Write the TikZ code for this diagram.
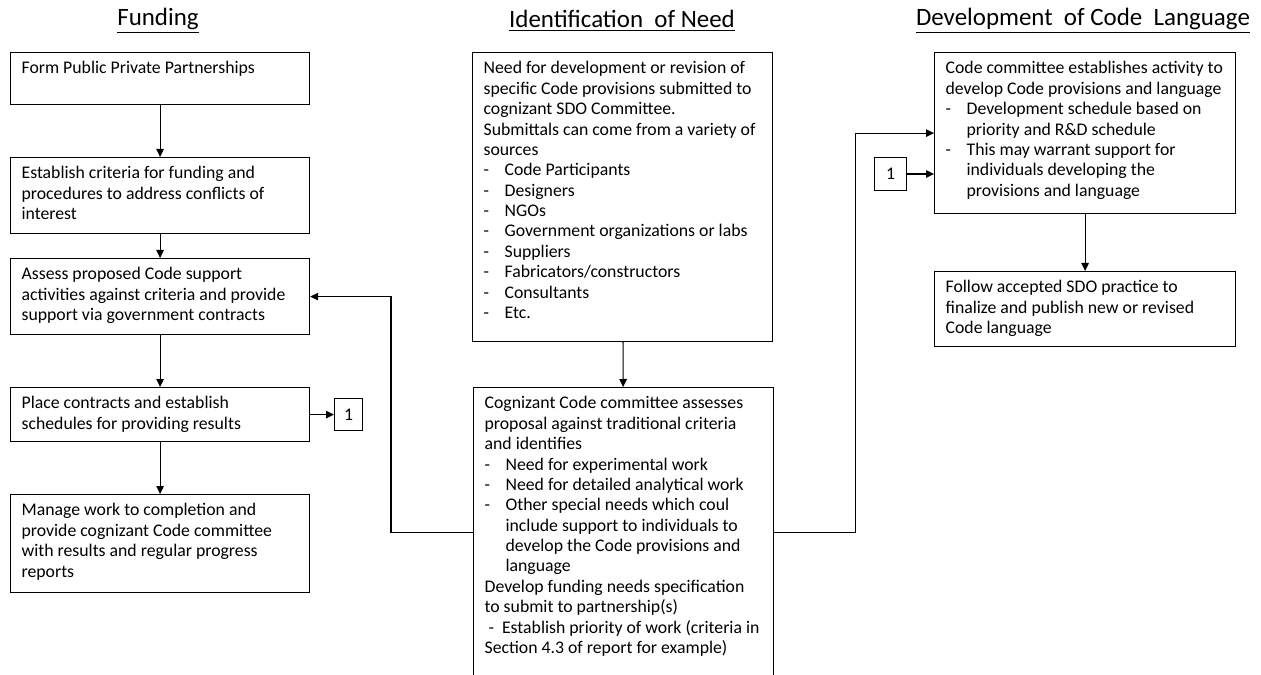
\documentclass[tikz,border=0pt]{standalone}
\usepackage{fontspec}
\setmainfont{Carlito}
\usetikzlibrary{arrows.meta,positioning}

\newcommand{\boxtext}[3]{\parbox[t][#2][t]{#1}{\raggedright\fontsize{10.1}{11.6}\selectfont #3}}
\newcommand{\dashitem}[1]{\par\hangindent=0.42cm\hangafter=1\noindent\makebox[0.42cm][l]{-}#1}

\begin{document}
\begin{tikzpicture}[
  x=0.02cm, y=-0.02cm,
  stage/.style={draw, line width=0.7pt, anchor=north west, inner xsep=0.22cm, inner ysep=0.18cm},
  tag/.style={draw, line width=0.6pt, anchor=north west, inner sep=0pt, font=\fontsize{10.1}{11.6}\selectfont},
  heading/.style={font=\fontsize{14.2}{16}\selectfont},
  arr/.style={line width=0.6pt, -{Triangle[length=0.16cm,width=0.15cm]}}]
\useasboundingbox (0,0) rectangle (1261,675);
\node [heading] (hfund) at (158,21) {\underline{Funding}};
\node [heading] (hneed) at (622,21) {\underline{Identification\ \ of Need}};
\node [heading] (hdev) at (1083,21) {\underline{Development\ \ of Code\ \ Language}};
\node [stage] (fund1) at (10,52) {\boxtext{5.54cm}{0.68cm}{Form Public Private Partnerships}};
\node [stage] (fund2) at (10,157) {\boxtext{5.54cm}{1.16cm}{Establish criteria for funding and\\
  procedures to address conflicts of\\ interest}};
\node [stage] (fund3) at (10,258) {\boxtext{5.54cm}{1.16cm}{Assess proposed Code support\\
  activities against criteria and provide\\ support via government contracts}};
\node [stage] (fund4) at (10,387) {\boxtext{5.54cm}{0.72cm}{Place contracts and establish\\
  schedules for providing results}};
\node [stage] (fund5) at (10,494) {\boxtext{5.54cm}{1.60cm}{Manage work to completion and\\
  provide cognizant Code committee\\ with results and regular progress\\ reports}};
\node [tag, minimum width=0.56cm, minimum height=0.64cm] (tag1) at (334,398) {1};
\node [stage] (need) at (472,52) {\boxtext{5.56cm}{5.42cm}{Need for development or revision of\\
  specific Code provisions submitted to\\ cognizant SDO Committee.\\
  Submittals can come from a variety of\\ sources
  \dashitem{Code Participants}
  \dashitem{Designers}
  \dashitem{NGOs}
  \dashitem{Government organizations or labs}
  \dashitem{Suppliers}
  \dashitem{Fabricators/constructors}
  \dashitem{Consultants}
  \dashitem{Etc.}}};
\node [stage] (assess) at (473,387) {\boxtext{5.56cm}{5.44cm}{Cognizant Code committee assesses\\
  proposal against traditional criteria\\ and identifies
  \dashitem{Need for experimental work}
  \dashitem{Need for detailed analytical work}
  \dashitem{Other special needs which coul\newline include support to individuals to\newline
    develop the Code provisions and\newline language}
  \par\noindent Develop funding needs specification\\ to submit to partnership(s)\\
  \ - \ Establish priority of work (criteria in\\ Section 4.3 of report for example)}};
\node [stage] (dev1) at (934,52) {\boxtext{5.58cm}{2.86cm}{Code committee establishes activity to\\
  develop Code provisions and language
  \dashitem{Development schedule based on\newline priority and R\&D schedule}
  \dashitem{This may warrant support for\newline individuals developing the\newline provisions and language}}};
\node [tag, minimum width=0.64cm, minimum height=0.66cm] (tag2) at (874,157) {1};
\node [stage] (dev2) at (934,271) {\boxtext{5.58cm}{1.14cm}{Follow accepted SDO practice to\\
  finalize and publish new or revised\\ Code language}};
\draw [arr] (fund1) -- (fund2);
\draw [arr] (fund2) -- (fund3);
\draw [arr] (fund3) -- (fund4);
\draw [arr] (fund4) -- (fund5);
\draw [arr] (fund4.east) -- (tag1.west |- fund4.east);
\draw [arr] (need) -- (assess);
\draw [arr] (assess.west) -- ++(-82,0) |- (fund3.east);
\draw [arr] (assess.east) -- ++(81,0) |- (dev1.west);
\draw [arr] (tag2.east) -- (tag2.east -| dev1.west);
\draw [arr] (dev1) -- (dev2);
\end{tikzpicture}
\end{document}
